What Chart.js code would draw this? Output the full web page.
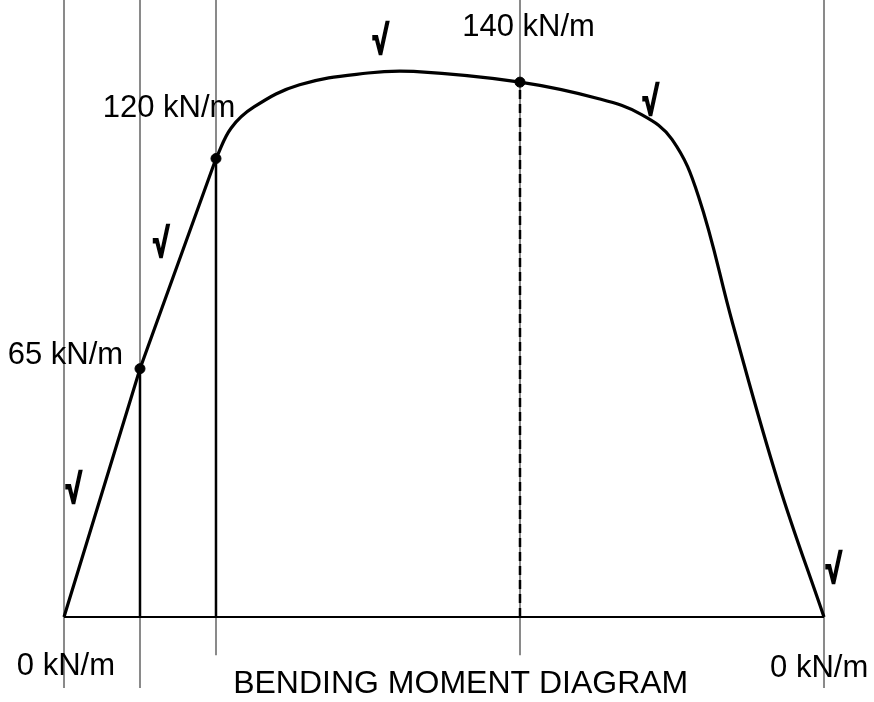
<!DOCTYPE html>
<html>
<head>
<meta charset="utf-8">
<script src="https://cdn.jsdelivr.net/npm/chart.js@4.4.0/dist/chart.umd.min.js"></script>
<style>
  body { margin: 0; background: #fff; }
  .bmd { width: 874px; height: 702px; }
</style>
</head>
<body>
<div class="bmd"><canvas id="bmdChart"></canvas></div>
<script>
// beam stations (m) and bending moment values (kN/m)
const stations = [0, 1, 2, 6, 10];
const straightX = [0, 1, 2];
const straightY = [0, 65, 120];
const curveX = [2, 2.2, 2.5, 3.1, 4.0, 4.6, 6, 7.05, 7.6, 8.0, 8.35, 8.8, 9.4, 10];
const curveY = [120, 128, 133.5, 139.3, 142.4, 142.8, 140, 135.6, 131.5, 125, 110, 76.7, 35.1, 0];
const keyX = [1, 2, 6];
const keyY = [65, 120, 140];
const keyLabels = ["65 kN/m", "120 kN/m", "140 kN/m"];
const endLabels = ["0 kN/m", "0 kN/m"];
const title = "BENDING MOMENT DIAGRAM";

const ctx = document.getElementById('bmdChart');

const pts = (xs, ys) => xs.map((x, i) => ({ x: x, y: ys[i] }));

let datasets = [];

// gray station lines
stations.forEach((s) => {
  const longOne = (s == 0 || s == 1 || s == 10);
  datasets.push({
    data: [{ x: s, y: 170 }, { x: s, y: longOne ? -18.6 : -10 }],
    borderColor: '#8a8a8a',
    borderWidth: 2,
    pointRadius: 0,
    order: 10,
  });
});

// base line
datasets.push({
  data: [{ x: 0, y: 0 }, { x: 10, y: 0 }],
  borderColor: '#000',
  borderWidth: 2,
  pointRadius: 0,
  order: 5,
});

// ordinates at key points
keyX.forEach((x, i) => {
  datasets.push({
    data: [{ x: x, y: 0 }, { x: x, y: keyY[i] }],
    borderColor: '#000',
    borderWidth: 2.5,
    borderDash: x == 6 ? [9, 5] : [],
    pointRadius: 0,
    order: 5,
  });
});

// moment diagram
datasets.push({
  data: pts(straightX, straightY),
  borderColor: '#000',
  borderWidth: 3.2,
  tension: 0,
  pointRadius: 0,
  order: 2,
});
datasets.push({
  data: pts(curveX, curveY),
  borderColor: '#000',
  borderWidth: 3.2,
  tension: 0.4,
  pointRadius: 0,
  order: 2,
});
datasets.push({
  data: pts(keyX, keyY),
  showLine: false,
  pointRadius: 5,
  pointBackgroundColor: '#000',
  pointBorderColor: '#000',
  order: 1,
});

// texts placed in data units
const textPlugin = {
  id: 'bmdText',
  afterDatasetsDraw(chart) {
    const c = chart.ctx;
    const xs = chart.scales.x, ys = chart.scales.y;
    const put = (txt, x, y, font, align, base) => {
      c.font = font;
      c.textAlign = align;
      c.textBaseline = base;
      c.fillStyle = '#000';
      c.fillText(txt, xs.getPixelForValue(x), ys.getPixelForValue(y));
    };
    c.save();
    const f = '31px "Liberation Sans", Arial, sans-serif';
    put(keyLabels[0], -0.74, 66.2, f, 'left', 'alphabetic');
    put(keyLabels[1], 0.51, 130.9, f, 'left', 'alphabetic');
    put(keyLabels[2], 5.24, 152.1, f, 'left', 'alphabetic');
    put(endLabels[0], -0.62, -15.2, f, 'left', 'alphabetic');
    put(endLabels[1], 9.29, -15.7, f, 'left', 'alphabetic');
    put(title, 5.22, -19.9, '32px "Liberation Sans", Arial, sans-serif', 'center', 'alphabetic');
    // check marks, stretched a bit taller and heavier
    [[4.17, 150.3], [7.72, 134.3], [1.28, 97.1], [0.13, 32.7], [10.13, 11.8]].forEach((p) => {
      c.save();
      c.translate(xs.getPixelForValue(p[0]), ys.getPixelForValue(p[1]));
      c.scale(0.95, 1.35);
      c.font = 'bold 30px "Liberation Sans", sans-serif';
      c.textAlign = 'center';
      c.textBaseline = 'middle';
      c.fillStyle = '#000';
      c.strokeStyle = '#000';
      c.lineWidth = 1.6;
      c.fillText('\u221A', 0, 0);
      c.strokeText('\u221A', 0, 0);
      c.restore();
    });
    c.restore();
  }
};

const myChart = new Chart(ctx, {
  type: 'line',
  data: { datasets: datasets },
  options: {
    responsive: true,
    maintainAspectRatio: false,
    animation: false,
    layout: { padding: 0, autoPadding: false },
    plugins: { legend: { display: false }, tooltip: { enabled: false } },
    scales: {
      x: { type: 'linear', min: -0.842, max: 10.658, display: false },
      y: { type: 'linear', min: -22.25, max: 161.5, display: false },
    },
  },
  plugins: [textPlugin],
});
</script>
</body>
</html>
